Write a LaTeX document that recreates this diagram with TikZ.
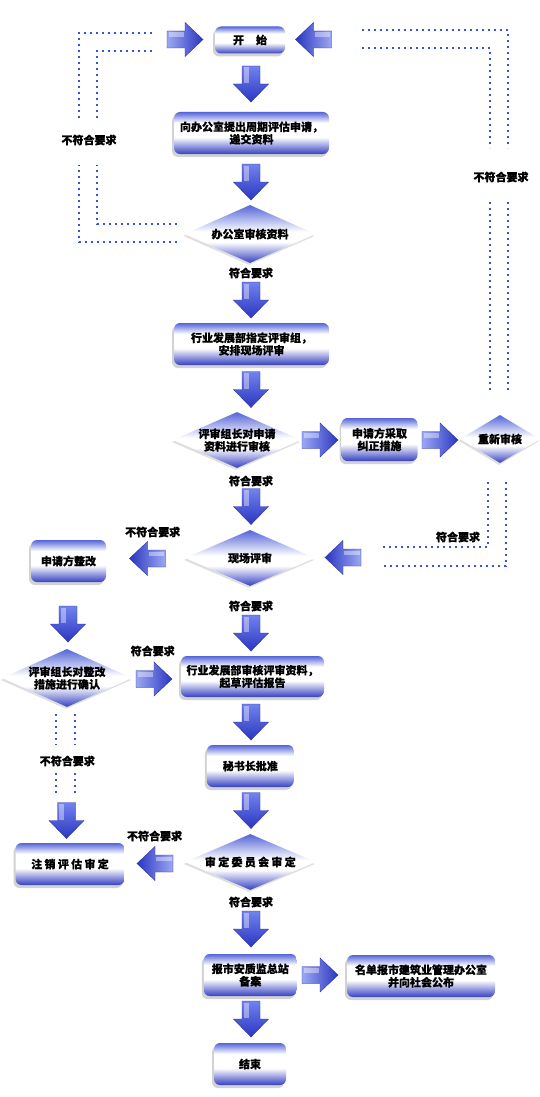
\documentclass[tikz,border=0pt]{standalone}
\usepackage{fontspec}
\newfontfamily\cjkn{Noto Sans CJK SC}[BoldFeatures={FakeBold=0.4}]
\newfontfamily\cjkl{Noto Sans CJK SC}[BoldFeatures={FakeBold=0.9}]
\usetikzlibrary{shapes.geometric,shadows,calc}
\definecolor{btop}{HTML}{5565D8}
\definecolor{bbot}{HTML}{3540C2}
\definecolor{dotc}{HTML}{3355DD}
\definecolor{arlight}{HTML}{7282EE}
\definecolor{ardark}{HTML}{2A36C0}
\definecolor{ardraw}{HTML}{2A32A8}
\pgfdeclareverticalshading{boxsh}{100bp}{color(0bp)=(bbot); color(25bp)=(bbot); color(45bp)=(white); color(62bp)=(white); color(75bp)=(btop); color(100bp)=(btop)}
\pgfdeclareverticalshading{diash}{100bp}{color(0bp)=(bbot); color(25bp)=(bbot); color(43bp)=(white); color(52bp)=(white); color(75bp)=(btop); color(100bp)=(btop)}
\newcommand\ntext{\cjkn\bfseries\fontsize{11}{12.5}\selectfont}
\newcommand\ltext{\cjkl\bfseries\fontsize{11}{13}\selectfont}
\newcommand\gp{\hspace{2.3pt}}
\tikzset{
  box/.style={rounded corners=6pt, shading=boxsh, minimum height=42pt, inner sep=1pt,
    align=center, font=\ntext, drop shadow={shadow xshift=-2pt, shadow yshift=-3pt, opacity=.35}},
  dia/.style={diamond, shading=diash, inner sep=0pt,
    drop shadow={shadow xshift=-1pt, shadow yshift=-2pt, opacity=.25}},
  dtext/.style={font=\ntext, align=center, inner sep=0pt},
  lbl/.style={font=\ltext, inner sep=0pt},
  dots/.style={draw=dotc, line width=2pt, dash pattern=on 2pt off 4pt},
  darrow/.pic={
    \shade[top color=arlight, bottom color=ardark, draw=ardraw, line width=.4pt]
      (-9,-18) -- (9,-18) -- (9,0) -- (17.5,0) -- (0,18) -- (-17.5,0) -- (-9,0) -- cycle;
    \fill[white, opacity=.4] (-7.5,-16.5) rectangle (-2.5,-1);
  },
  rarrow/.pic={
    \shade[left color=arlight!70!white, right color=ardark, draw=ardraw, line width=.4pt]
      (-18,-8.5) -- (0,-8.5) -- (0,-17) -- (18,0) -- (0,17) -- (0,8.5) -- (-18,8.5) -- cycle;
    \fill[white, opacity=.4] (-16.5,-7) rectangle (-1,-2.5);
  },
  larrow/.pic={
    \shade[right color=arlight!70!white, left color=ardark, draw=ardraw, line width=.4pt]
      (18,-8.5) -- (0,-8.5) -- (0,-17) -- (-18,0) -- (0,17) -- (0,8.5) -- (18,8.5) -- cycle;
    \fill[white, opacity=.4] (1,-7) rectangle (16.5,-2.5);
  },
}
\begin{document}
\begin{tikzpicture}[x=1pt,y=-1pt]
\fill[white] (0,0) rectangle (540,1097);
\path[use as bounding box] (0,0) rectangle (540,1097);

% nodes
\node[box, minimum width=70pt, minimum height=27pt] (start) at (250,40) {开\hspace{12pt}始};
\node[box, minimum width=155pt] (apply) at (251.5,133) {向办公室提出周期评估申请，\\递交资料};
\node[dia, minimum width=131pt, minimum height=58pt, label={[dtext]center:办公室审核资料}] (check1) at (250,234) {};
\node[box, minimum width=155pt] (assign) at (251.5,344) {行业发展部指定评审组，\\安排现场评审};
\node[dia, minimum width=128pt, minimum height=56pt, label={[dtext]center:{评审组长对申请\\资料进行审核}}] (check2) at (237,440) {};
\node[box, minimum width=76pt, minimum height=43pt] (correct) at (379.5,439.5) {申请方采取\\纠正措施};
\node[dia, minimum width=80pt, minimum height=48pt, label={[dtext]center:重新审核}] (recheck) at (500,439) {};
\node[dia, minimum width=130pt, minimum height=56pt, label={[dtext]center:现场评审}] (site) at (250,558) {};
\node[box, minimum width=75pt] (rectify) at (68.5,561) {申请方整改};
\node[dia, minimum width=130pt, minimum height=58pt, label={[dtext]center:{评审组长对整改\\措施进行确认}}] (confirm) at (67,678) {};
\node[box, minimum width=143pt, minimum height=41pt] (report) at (252.5,676.5) {行业发展部审核评审资料，\\起草评估报告};
\node[box, minimum width=87pt] (approve) at (250.3,766) {秘书长批准};
\node[dia, minimum width=131pt, minimum height=56pt, label={[dtext]center:审\gp 定\gp 委\gp 员\gp 会\gp 审\gp 定}] (committee) at (250.3,862) {};
\node[box, minimum width=109pt] (cancel) at (70,864) {注\gp 销\gp 评\gp 估\gp 审\gp 定};
\node[box, minimum width=93pt] (file) at (250.3,975) {报市安质监总站\\备案};
\node[box, minimum width=148pt] (publish) at (421,976) {名单报市建筑业管理办公室\\并向社会公布};
\node[box, minimum width=72pt] (finish) at (250,1064) {结束};

% block arrows
\pic (ad1) at (251,84) {darrow};
\pic (ad2) at (251,182) {darrow};
\pic (ad3) at (251,300) {darrow};
\pic (ad4) at (251,389.5) {darrow};
\pic (ad5) at (251,506.5) {darrow};
\pic (ad6) at (251,633) {darrow};
\pic (ad7) at (251,722) {darrow};
\pic (ad8) at (251,810.5) {darrow};
\pic (ad9) at (251,929) {darrow};
\pic (ad10) at (251,1019) {darrow};
\pic (ad11) at (68,624) {darrow};
\pic (ad12) at (66.5,820.5) {darrow};
\pic (ar1) at (185,39.5) {rarrow};
\pic (ar2) at (320,440) {rarrow};
\pic (ar3) at (440,440) {rarrow};
\pic (ar4) at (154,679) {rarrow};
\pic (ar5) at (320,975) {rarrow};
\pic (al1) at (313.5,39.5) {larrow};
\pic (al2) at (147.5,558.5) {larrow};
\pic (al3) at (343,557.5) {larrow};
\pic (al4) at (155,863.5) {larrow};

% labels
\node[lbl] (l1) at (89,140) {不符合要求};
\node[lbl] (l2) at (251,273) {符合要求};
\node[lbl] (l3) at (501,177) {不符合要求};
\node[lbl] (l4) at (251,481) {符合要求};
\node[lbl] (l5) at (152.7,532) {不符合要求};
\node[lbl] (l6) at (458,537) {符合要求};
\node[lbl] (l7) at (251,606) {符合要求};
\node[lbl] (l8) at (152.7,651) {符合要求};
\node[lbl] (l9) at (67.3,761) {不符合要求};
\node[lbl] (l10) at (154.6,836) {不符合要求};
\node[lbl] (l11) at (251,902) {符合要求};

% dotted return lines
\draw[dots] (176.5,242) -| (79,165);
\draw[dots] (79,118) |- (152.7,33);
\draw[dots] (176.5,224) -| (96.6,165);
\draw[dots] (96.6,118) |- (152.7,51);
\draw[dots] (362,30) -| (508,148);
\draw[dots] (508,202) -- (508,390);
\draw[dots] (362,48) -| (490,148);
\draw[dots] (490,202) -- (490,390);
\draw[dots] (488,482) |- (383,547);
\draw[dots] (506,482) |- (383,566);
\draw[dots] (56,714) -- (56,745);
\draw[dots] (74.8,714) -- (74.8,745);
\draw[dots] (56,773) -- (56,793);
\draw[dots] (74.8,773) -- (74.8,793);
\end{tikzpicture}
\end{document}
